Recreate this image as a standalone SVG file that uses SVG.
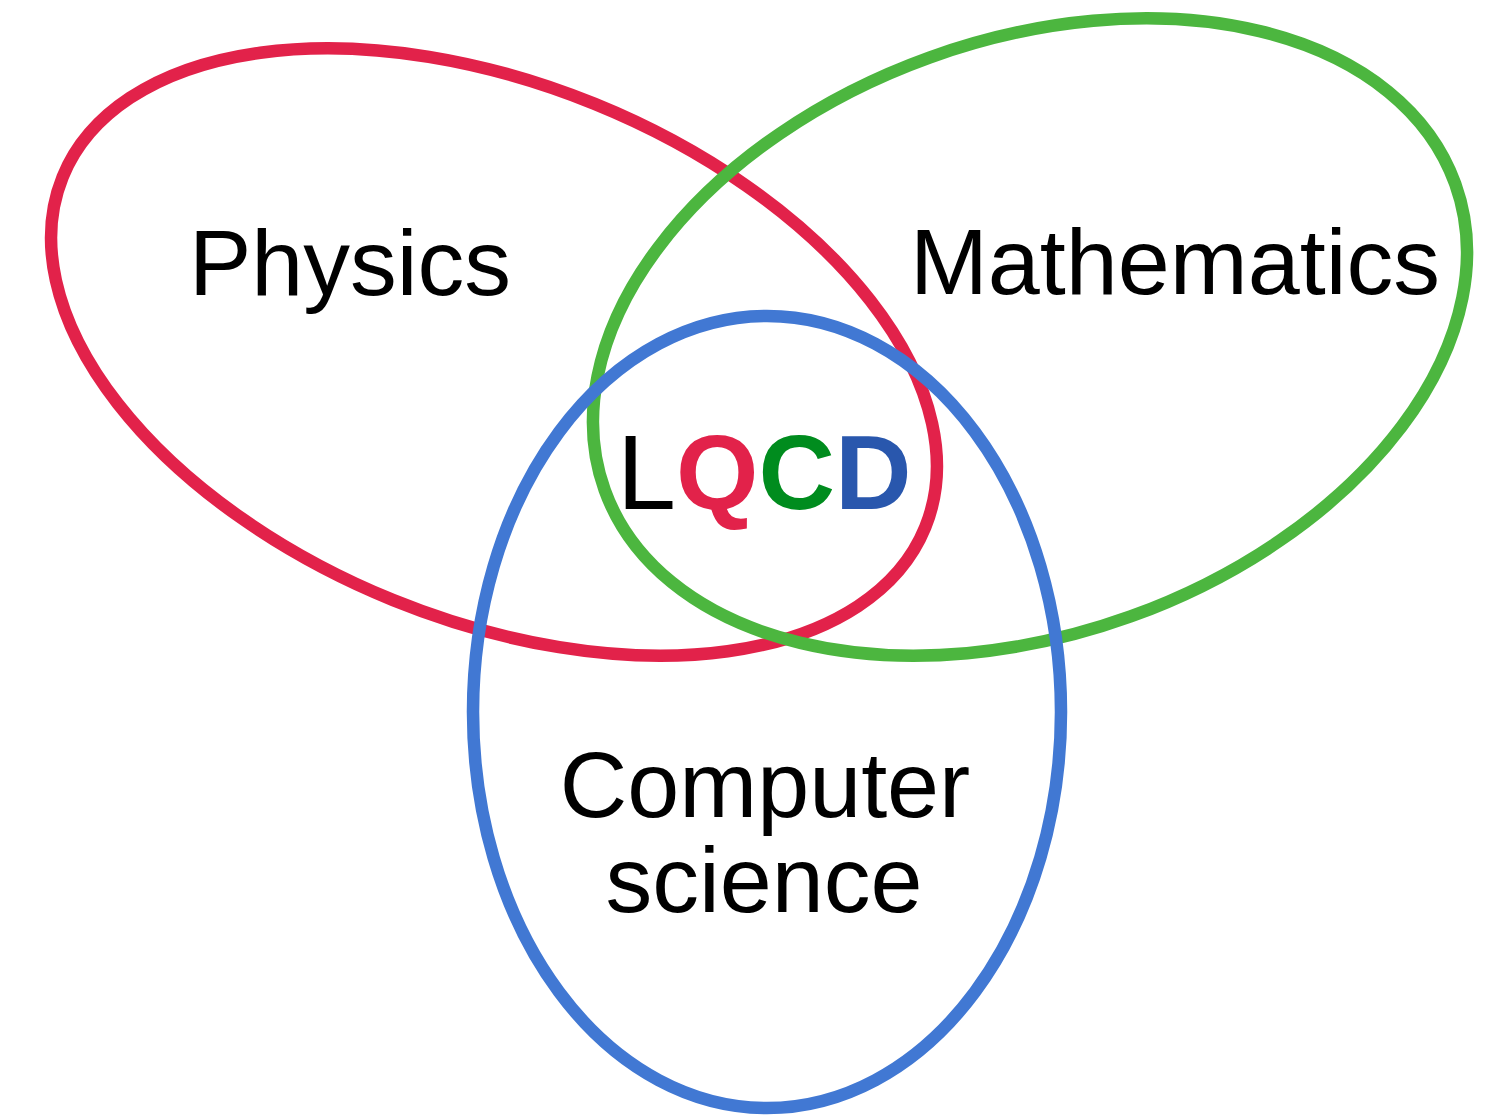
<svg xmlns="http://www.w3.org/2000/svg" width="1507" height="1116" viewBox="0 0 1507 1116">
<style>
.ring{fill:none;stroke-width:12.5}
.lbl{font-family:"Liberation Sans",Arial,sans-serif;font-size:93.5px;fill:#000}
.big{font-family:"Liberation Sans",Arial,sans-serif;font-size:106px}
</style>
<rect width="1507" height="1116" fill="#fff"/>
<g id="physics">
<ellipse class="ring" cx="494" cy="352" rx="465.5" ry="267.8" transform="rotate(22.1 494 352)" stroke="#E2224A"/>
<text class="lbl" x="350" y="295" text-anchor="middle">Physics</text>
</g>
<g id="mathematics">
<ellipse class="ring" cx="1030" cy="337" rx="452" ry="297" transform="rotate(-19.8 1030 337)" stroke="#4CB63F"/>
<text class="lbl" x="1175" y="294" text-anchor="middle">Mathematics</text>
</g>
<g id="computer-science">
<ellipse class="ring" cx="767" cy="712" rx="294" ry="396" stroke="#4178D3"/>
<text class="lbl" x="765" y="817" text-anchor="middle">Computer</text>
<text class="lbl" x="764" y="912" text-anchor="middle">science</text>
</g>
<g id="lqcd">
<text class="big" x="617" y="509"><tspan fill="#000">L</tspan><tspan font-weight="bold" fill="#E2224A">Q</tspan><tspan font-weight="bold" fill="#008C1E">C</tspan><tspan font-weight="bold" fill="#2957AD">D</tspan></text>
</g>
<g id="connectors"></g>
</svg>
